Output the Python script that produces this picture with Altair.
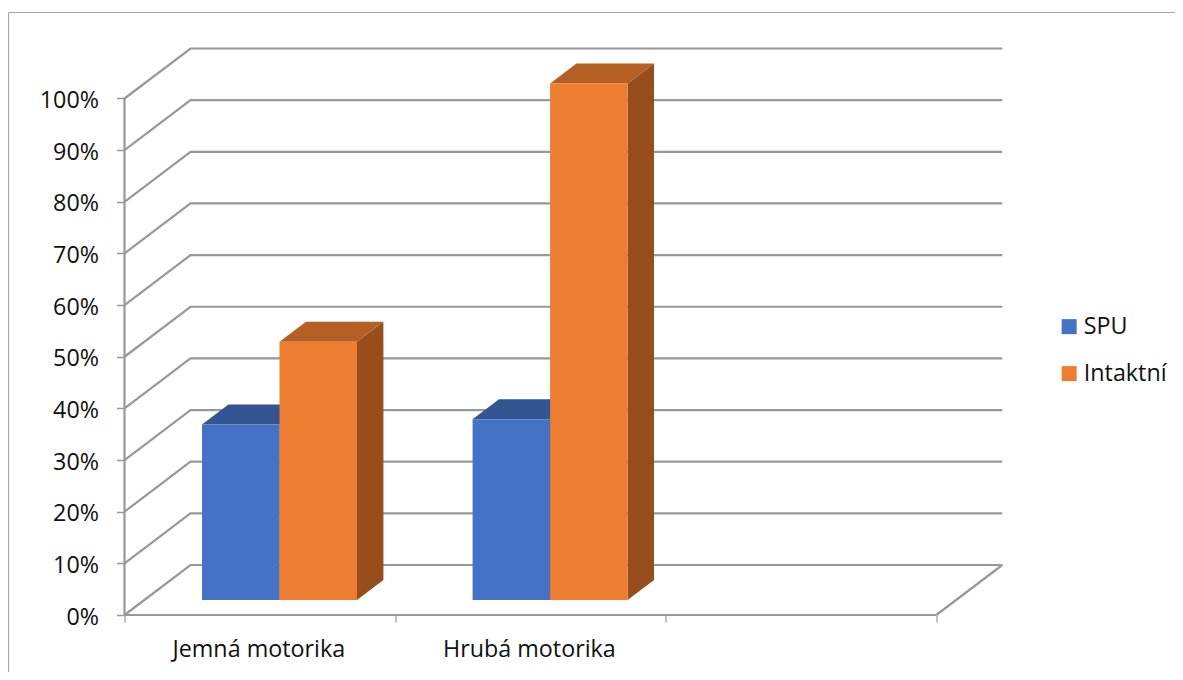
import altair as alt
import pandas as pd

categories = ["Jemná motorika", "Hrubá motorika"]
spu_values = [0.34, 0.35]
intaktni_values = [0.50, 1.00]
series_names = ["SPU", "Intaktní"]
series_colors = ["#4472C4", "#ED7D31"]
top_colors = ["#335693", "#B55F24"]
side_colors = ["#2A4A85", "#974E1C"]
grid_values = [i / 10 for i in range(11)]
n_slots = 3

# plot geometry (pixels)
PX_X = 270.6       # one category slot
PX_Y = 516.5       # 100 %
DEPTH_X = 66 / PX_X
DEPTH_Y = 50 / PX_Y
W, H = 878, 567

# bar geometry, category units
BAR_FRONT_Z = 0.3
BAR_BACK_Z = 0.7
BAR_START = 57.7 / PX_X
BAR_W = 77.5 / PX_X


def project(x, v, z):
    return x + z * DEPTH_X, v + z * DEPTH_Y


# gridlines ---------------------------------------------------------------
grid_rows = []
for v in grid_values:
    k = f"g{v}"
    for x, z in [(0, 0), (0, 1), (n_slots, 1)]:
        px, py = project(x, v, z)
        grid_rows.append({"k": k, "x": px, "y": py})
for name, pts in {"front": [(0, 0), (n_slots, 0)], "right": [(n_slots, 0), (n_slots, 1)]}.items():
    for x, z in pts:
        px, py = project(x, 0, z)
        grid_rows.append({"k": name, "x": px, "y": py})
grid_df = pd.DataFrame(grid_rows)

# bars --------------------------------------------------------------------
front_rows, face_rows = [], []
for c, cat in enumerate(categories):
    for s, vals in enumerate([spu_values, intaktni_values]):
        v = vals[c]
        x0 = c + BAR_START + s * BAR_W
        x1 = x0 + BAR_W
        fx0, fy0 = project(x0, 0, BAR_FRONT_Z)
        fx1, fy1 = project(x1, v, BAR_FRONT_Z)
        bx0, by0 = project(x0, 0, BAR_BACK_Z)
        bx1, by1 = project(x1, v, BAR_BACK_Z)
        front_rows.append({"series": series_names[s], "x": fx0, "x2": fx1, "y": fy0, "y2": fy1})
        k = f"{c}{s}"
        for px, top, bot in [(fx1, fy1, fy0), (bx1, by1, by0)]:
            face_rows.append({"k": k + "side", "shade": side_colors[s], "x": px, "y": top, "y2": bot})
        for px, top, bot in [(fx0, fy1, fy1), (bx0, by1, fy1), (fx1, by1, fy1), (bx1, by1, by1)]:
            face_rows.append({"k": k + "top", "shade": top_colors[s], "x": px, "y": top, "y2": bot})
front_df = pd.DataFrame(front_rows)
face_df = pd.DataFrame(face_rows)

label_df = pd.DataFrame({"label": categories, "x": [i + 0.5 for i in range(len(categories))], "y": [0, 0]})

FONT = "Open Sans"
GRID = "#989898"
TEXT = "#111111"
FS = 23.3

x_scale = alt.Scale(domain=[0, W / PX_X], range=[0, W], nice=False, zero=False)
y_scale = alt.Scale(domain=[0, H / PX_Y], range=[H, 0], nice=False, zero=False)

x_axis = alt.Axis(values=list(range(n_slots + 1)), labels=False, title=None, domain=False, grid=False,
                  tickColor=GRID, tickSize=7, tickWidth=1.2)
y_axis = alt.Axis(values=grid_values, format=".0%", title=None, domain=False, grid=False,
                  tickColor=GRID, tickSize=8, tickWidth=1.5, labelFont=FONT, labelFontSize=FS,
                  labelColor=TEXT, labelPadding=18, labelOffset=2)

grid = alt.Chart(grid_df).mark_line(color=GRID, strokeWidth=2.2).encode(
    x=alt.X("x:Q", scale=x_scale, axis=x_axis),
    y=alt.Y("y:Q", scale=y_scale, axis=y_axis),
    detail="k:N",
    order=alt.Order("x:Q"),
)

axis_df = pd.DataFrame({"x": [0], "y": [grid_values[0]], "y2": [grid_values[-1]]})
y_line = alt.Chart(axis_df).mark_rule(color=GRID, strokeWidth=2.2).encode(
    x=alt.X("x:Q", scale=x_scale), y=alt.Y("y:Q", scale=y_scale), y2="y2:Q")

faces = alt.Chart(face_df).mark_area(opacity=1, orient="vertical").encode(
    x=alt.X("x:Q", scale=x_scale),
    y=alt.Y("y:Q", scale=y_scale, stack=None),
    y2="y2:Q",
    color=alt.Color("shade:N", scale=None),
    detail="k:N",
)

fronts = alt.Chart(front_df).mark_rect(opacity=1).encode(
    x=alt.X("x:Q", scale=x_scale),
    x2="x2:Q",
    y=alt.Y("y:Q", scale=y_scale),
    y2="y2:Q",
    fill=alt.Fill("series:N",
                  scale=alt.Scale(domain=series_names, range=series_colors),
                  legend=alt.Legend(title=None, orient="none", legendX=933, legendY=267,
                                    symbolType="square", symbolSize=225, symbolStrokeWidth=0,
                                    symbolOpacity=1, labelFont=FONT, labelFontSize=FS,
                                    labelColor=TEXT, rowPadding=23, labelOffset=3, padding=0)),
)

labels = alt.Chart(label_df).mark_text(font=FONT, fontSize=FS, color=TEXT, dy=35, dx=-1).encode(
    x=alt.X("x:Q", scale=x_scale), y=alt.Y("y:Q", scale=y_scale), text="label:N")

frame_top = alt.Chart(pd.DataFrame({"a": [0]})).mark_rule(color="#A6A6A6", strokeWidth=1.2).encode(
    x=alt.value(-116), x2=alt.value(1060), y=alt.value(-35.5))
frame_left = alt.Chart(pd.DataFrame({"a": [0]})).mark_rule(color="#A6A6A6", strokeWidth=1.2).encode(
    x=alt.value(-116), y=alt.value(-35.5), y2=alt.value(640))

chart = alt.layer(frame_top, frame_left, grid, y_line, faces, fronts, labels).properties(
    width=W, height=H,
    padding={"left": 116.5, "top": 40, "right": 172.5, "bottom": 57},
    autosize=alt.AutoSizeParams(type="none"),
).configure_view(stroke=None).resolve_scale(color="independent")

chart.save("out.html", embed_options={"renderer": "svg", "actions": False})
